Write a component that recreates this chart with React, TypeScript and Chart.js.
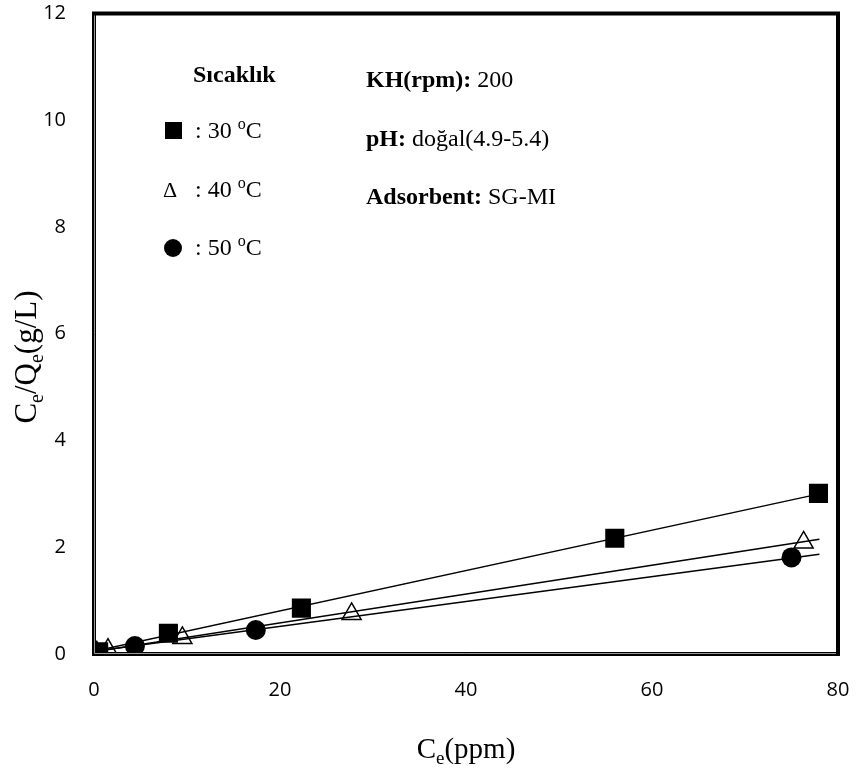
import React, { useEffect, useRef } from "react";
import { Chart, registerables } from "chart.js";

Chart.register(...registerables);

// 30 °C (filled squares)
const x30 = [0.05, 0.5, 8.0, 22.3, 56.0, 77.9];
const y30 = [0.02, 0.04, 0.39, 0.86, 2.17, 3.01];
// 40 °C (open triangles)
const x40 = [0.3, 1.5, 9.5, 27.7, 76.3];
const y40 = [0.03, 0.08, 0.3, 0.75, 2.09];
// 50 °C (filled circles)
const x50 = [0.1, 4.4, 17.4, 75.0];
const y50 = [0.02, 0.15, 0.45, 1.81];
// linear trend lines (endpoints)
const fitX = [0, 78];
const fit30 = [0.05, 3.0];
const fit40 = [0.04, 2.15];
const fit50 = [0.05, 1.87];

const xTicks = [0, 20, 40, 60, 80];
const yTicks = [0, 2, 4, 6, 8, 10, 12];

const legendTitle = "Sıcaklık";
const legendLabels = ["30", "40", "50"];

const SERIF = "'Liberation Serif', 'Times New Roman', serif";
const SANS = "'Open Sans', 'Liberation Sans', sans-serif";

type Seg = { t: string; bold?: boolean; sub?: boolean; sup?: boolean; size: number };

function segFont(s: Seg) {
  const sz = s.sub || s.sup ? Math.round(s.size * 0.65) : s.size;
  return `${s.bold ? "bold " : ""}${sz}px ${SERIF}`;
}
function richWidth(ctx: CanvasRenderingContext2D, segs: Seg[]) {
  let w = 0;
  for (const s of segs) {
    ctx.font = segFont(s);
    w += ctx.measureText(s.t).width;
  }
  return w;
}
function drawRich(ctx: CanvasRenderingContext2D, segs: Seg[], x: number, y: number) {
  let cx = x;
  ctx.textAlign = "left";
  ctx.textBaseline = "alphabetic";
  for (const s of segs) {
    ctx.font = segFont(s);
    const dy = s.sub ? s.size * 0.22 : s.sup ? -s.size * 0.38 : 0;
    ctx.fillText(s.t, cx, y + dy);
    cx += ctx.measureText(s.t).width;
  }
}

const overlay = {
  id: "overlay",
  afterDraw(chart: any) {
    const ctx: CanvasRenderingContext2D = chart.ctx;
    const a = chart.chartArea;
    ctx.save();
    // frame
    ctx.strokeStyle = "#000";
    ctx.lineWidth = 4;
    ctx.strokeRect(a.left, a.top, a.right - a.left, a.bottom - a.top);
    ctx.strokeStyle = "#999";
    ctx.lineWidth = 1;
    ctx.beginPath();
    ctx.moveTo(a.left + 0.5, a.top + 2);
    ctx.lineTo(a.left + 0.5, a.bottom - 0.5);
    ctx.lineTo(a.right - 2, a.bottom - 0.5);
    ctx.stroke();

    ctx.fillStyle = "#000";
    // legend
    drawRich(ctx, [{ t: legendTitle, bold: true, size: 24 }], 193, 82);
    const lx = 173;
    const rows = [138, 197, 255];
    // square
    ctx.fillRect(lx - 8, rows[0] - 16, 17, 17);
    // triangle glyph
    ctx.font = `22px ${SERIF}`;
    ctx.textAlign = "center";
    ctx.fillText("Δ", lx - 3, rows[1]);
    // circle
    ctx.beginPath();
    ctx.arc(lx, rows[2] - 7, 9, 0, Math.PI * 2);
    ctx.fill();
    legendLabels.forEach((lab, i) => {
      drawRich(
        ctx,
        [
          { t: `: ${lab} `, size: 24 },
          { t: "o", sup: true, size: 24 },
          { t: "C", size: 24 },
        ],
        195,
        rows[i]
      );
    });

    // conditions
    drawRich(ctx, [{ t: "KH(rpm): ", bold: true, size: 24 }, { t: "200", size: 24 }], 366, 87);
    drawRich(ctx, [{ t: "pH: ", bold: true, size: 24 }, { t: "doğal(4.9-5.4)", size: 24 }], 366, 146);
    drawRich(ctx, [{ t: "Adsorbent: ", bold: true, size: 24 }, { t: "SG-MI", size: 24 }], 366, 204);

    // x title
    const xt: Seg[] = [
      { t: "C", size: 29 },
      { t: "e", sub: true, size: 29 },
      { t: "(ppm)", size: 29 },
    ];
    const xw = richWidth(ctx, xt);
    drawRich(ctx, xt, (a.left + a.right) / 2 - xw / 2, 758);

    // y title
    const yt: Seg[] = [
      { t: "C", size: 31 },
      { t: "e", sub: true, size: 31 },
      { t: "/Q", size: 31 },
      { t: "e", sub: true, size: 31 },
      { t: "(g/L)", size: 31 },
    ];
    const yw = richWidth(ctx, yt);
    ctx.translate(36, 357);
    ctx.rotate(-Math.PI / 2);
    drawRich(ctx, yt, -yw / 2, 0);
    ctx.restore();
  },
};

export default function App() {
  const ref = useRef<HTMLCanvasElement | null>(null);
  useEffect(() => {
    if (!ref.current) return;
    const pts = (xs: number[], ys: number[]) => xs.map((x, i) => ({ x, y: ys[i] }));
    const line = (ys: number[]) => ({
      type: "line" as const,
      data: pts(fitX, ys),
      borderColor: "#000",
      borderWidth: 1.5,
      pointRadius: 0,
      showLine: true,
      fill: false,
      order: 0,
    });
    const noPad = (s: any) => {
      s.paddingLeft = 0;
      s.paddingRight = 0;
      s.paddingTop = 0;
      s.paddingBottom = 0;
    };
    const chart = new Chart(ref.current, {
      type: "scatter",
      data: {
        datasets: [
          line(fit30),
          line(fit40),
          line(fit50),
          {
            data: pts(x30, y30),
            pointStyle: "rect",
            pointRadius: 13.5,
            backgroundColor: "#000",
            borderColor: "#000",
            borderWidth: 0,
            order: 1,
          },
          {
            data: pts(x40, y40),
            pointStyle: "triangle",
            pointRadius: 11,
            backgroundColor: "#fff",
            borderColor: "#000",
            borderWidth: 1.5,
            order: 1,
          },
          {
            data: pts(x50, y50),
            pointStyle: "circle",
            pointRadius: 10,
            backgroundColor: "#000",
            borderColor: "#000",
            borderWidth: 0,
            order: 1,
          },
        ],
      },
      options: {
        animation: false,
        responsive: false,
        layout: { padding: { left: 0, right: 19, top: 12, bottom: 0 } },
        plugins: { legend: { display: false }, tooltip: { enabled: false } },
        scales: {
          x: {
            type: "linear",
            min: 0,
            max: 80,
            afterFit: (s: any) => {
              s.height = 126;
              noPad(s);
            },
            afterBuildTicks: (s: any) => {
              s.ticks = xTicks.map((v) => ({ value: v }));
            },
            grid: { display: false, drawTicks: false },
            border: { display: false },
            ticks: {
              padding: 24,
              color: "#000",
              font: { family: SANS, size: 20 },
            },
          },
          y: {
            type: "linear",
            min: 0,
            max: 12,
            afterFit: (s: any) => {
              s.width = 94;
              noPad(s);
            },
            afterBuildTicks: (s: any) => {
              s.ticks = yTicks.map((v) => ({ value: v }));
            },
            grid: { display: false, drawTicks: false },
            border: { display: false },
            ticks: {
              padding: 28,
              color: "#000",
              font: { family: SANS, size: 20 },
            },
          },
        },
      },
      plugins: [overlay],
    });
    return () => chart.destroy();
  }, []);
  return (
    <div style={{ position: "absolute", left: 0, top: 0, width: 857, height: 780, background: "#fff" }}>
      <canvas ref={ref} width={857} height={780} style={{ width: 857, height: 780 }} />
    </div>
  );
}
